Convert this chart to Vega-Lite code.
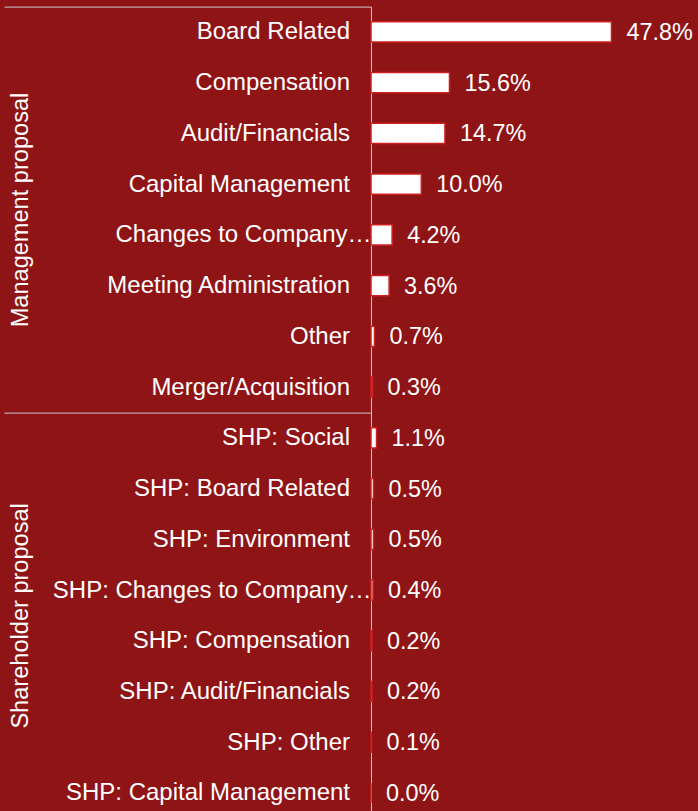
{
  "$schema": "https://vega.github.io/schema/vega-lite/v6.json",
  "width": 327,
  "height": 811.7,
  "autosize": {"type": "none"},
  "padding": {"left": 371, "top": 6.6, "right": 0, "bottom": 0},
  "background": "#8f1416",
  "config": {"view": {"stroke": null}, "font": "Liberation Sans"},
  "data": {
    "values": [
      {"group": "Management proposal", "category": "Board Related", "share": 0.478},
      {"group": "Management proposal", "category": "Compensation", "share": 0.156},
      {"group": "Management proposal", "category": "Audit/Financials", "share": 0.147},
      {"group": "Management proposal", "category": "Capital Management", "share": 0.100},
      {"group": "Management proposal", "category": "Changes to Company…", "share": 0.042},
      {"group": "Management proposal", "category": "Meeting Administration", "share": 0.036},
      {"group": "Management proposal", "category": "Other", "share": 0.007},
      {"group": "Management proposal", "category": "Merger/Acquisition", "share": 0.003},
      {"group": "Shareholder proposal", "category": "SHP: Social", "share": 0.011},
      {"group": "Shareholder proposal", "category": "SHP: Board Related", "share": 0.005},
      {"group": "Shareholder proposal", "category": "SHP: Environment", "share": 0.005},
      {"group": "Shareholder proposal", "category": "SHP: Changes to Company…", "share": 0.004},
      {"group": "Shareholder proposal", "category": "SHP: Compensation", "share": 0.002},
      {"group": "Shareholder proposal", "category": "SHP: Audit/Financials", "share": 0.002},
      {"group": "Shareholder proposal", "category": "SHP: Other", "share": 0.001},
      {"group": "Shareholder proposal", "category": "SHP: Capital Management", "share": 0.000}
    ]
  },
  "layer": [
    {
      "layer": [
        {
          "mark": {"type": "bar", "fill": "white", "stroke": "#cc2020", "strokeWidth": 1.5},
          "encoding": {
            "y": {
              "field": "category",
              "type": "nominal",
              "sort": null,
              "scale": {"paddingInner": 0.6, "paddingOuter": 0.3},
              "axis": {
                "title": null,
                "domainColor": "#cccccc",
                "domainWidth": 1,
                "ticks": true,
                "tickSize": 367,
                "tickColor": "#cccccc",
                "tickWidth": 1,
                "tickOffset": -25.37,
                "labelOffset": 25.37,
                "tickOpacity": {"condition": {"test": "datum.value === 'Board Related' || datum.value === 'SHP: Social'", "value": 1}, "value": 0},
                "labelPadding": {"condition": {"test": "indexof(datum.value, '…') >= 0", "value": -367}, "value": -345.5},
                "labelColor": "white",
                "labelFontSize": 24,
                "labelFont": "Liberation Sans",
                "labelLimit": 0,
                "labelAlign": "right",
                "labelBaseline": "middle"
              }
            },
            "x": {"field": "share", "type": "quantitative", "scale": {"domain": [0, 0.65], "nice": false}, "axis": null}
          }
        },
        {
          "mark": {"type": "text", "align": "left", "baseline": "middle", "dx": 15, "dy": 1, "color": "white", "fontSize": 23.4, "font": "Liberation Sans"},
          "encoding": {
            "y": {"field": "category", "type": "nominal", "sort": null},
            "x": {"field": "share", "type": "quantitative"},
            "text": {"field": "share", "type": "quantitative", "format": ".1%"}
          }
        }
      ]
    },
    {
      "mark": {"type": "text", "text": "", "opacity": 0},
      "encoding": {
        "y": {
          "field": "group",
          "type": "nominal",
          "sort": null,
          "scale": {"paddingInner": 0, "paddingOuter": 0},
          "axis": {
            "orient": "left",
            "title": null,
            "domain": false,
            "ticks": false,
            "tickSize": 0,
            "labelAngle": -90,
            "labelAlign": "center",
            "labelBaseline": "alphabetic",
            "labelPadding": 344,
            "labelColor": "white",
            "labelFontSize": 23.6,
            "labelFont": "Liberation Sans",
            "labelLimit": 0
          }
        }
      }
    }
  ],
  "resolve": {"scale": {"y": "independent"}}
}
